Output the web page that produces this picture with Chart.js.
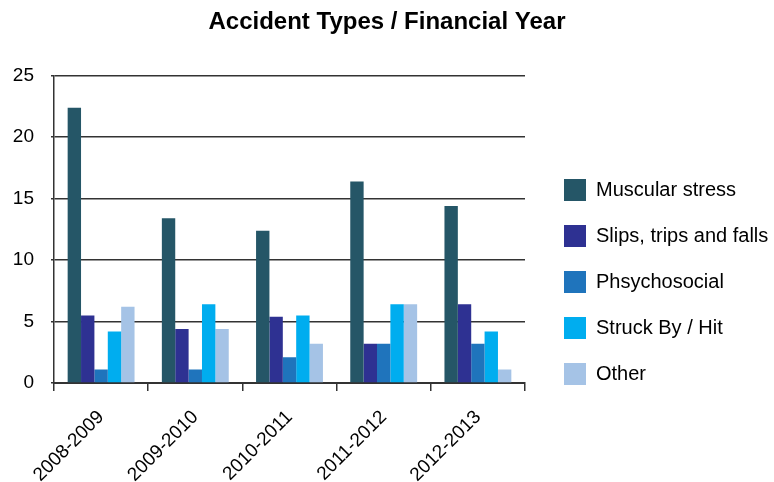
<!DOCTYPE html>
<html>
<head>
<meta charset="utf-8">
<script src="https://cdn.jsdelivr.net/npm/chart.js@4"></script>
<style>
    html, body { margin: 0; padding: 0; background: #fff; }
    #wrap { width: 774px; height: 482px; }
</style>
</head>
<body>
<div id="wrap"><canvas id="accident-chart"></canvas></div>
<script>
const years = ['2008-2009', '2009-2010', '2010-2011', '2011-2012', '2012-2013'];
const muscularStress = [22.4, 13.4, 12.4, 16.4, 14.4];
const slipsTrips = [5.5, 4.4, 5.4, 3.2, 6.4];
const phsychosocial = [1.1, 1.1, 2.1, 3.2, 3.2];
const struckBy = [4.2, 6.4, 5.5, 6.4, 4.2];
const other = [6.2, 4.4, 3.2, 6.4, 1.1];
const yTicks = [0, 5, 10, 15, 20, 25];

const font = 'Liberation Sans, Arial, sans-serif';
const dark = '#333333';

const ctx = document.getElementById('accident-chart');
//eslint-disable-next-line no-undef
new Chart(ctx, {
    type: 'bar',
    data: {
        labels: years,
        datasets: [
            { label: 'Muscular stress', data: muscularStress, backgroundColor: '#255667' },
            { label: 'Slips, trips and falls', data: slipsTrips, backgroundColor: '#2e3192' },
            { label: 'Phsychosocial', data: phsychosocial, backgroundColor: '#1f74bc' },
            { label: 'Struck By / Hit', data: struckBy, backgroundColor: '#00adef' },
            { label: 'Other', data: other, backgroundColor: '#a5c3e6' }
        ]
    },
    options: {
        responsive: true,
        maintainAspectRatio: false,
        animation: false,
        datasets: {
            bar: { categoryPercentage: 0.71, barPercentage: 1.0 }
        },
        layout: { padding: 0 },
        plugins: {
            title: {
                display: true,
                text: 'Accident Types / Financial Year',
                color: '#000',
                font: { family: font, size: 24, weight: 'bold' },
                padding: { top: 8, bottom: 39 }
            },
            legend: {
                position: 'right',
                align: 'center',
                maxWidth: 234,
                title: {
                    display: true,
                    text: ' ',
                    font: { family: font, size: 20, lineHeight: 1.1 },
                    padding: { top: 30, bottom: 30 }
                },
                labels: {
                    boxWidth: 22,
                    boxHeight: 22,
                    padding: 24,
                    color: '#000',
                    font: { family: font, size: 20, lineHeight: 1.1 }
                }
            },
            tooltip: { enabled: false }
        },
        scales: {
            x: {
                afterFit: (scale) => {
                    scale.paddingLeft = 0;
                    scale.height = 99;
                },
                grid: {
                    display: true,
                    drawOnChartArea: false,
                    drawTicks: true,
                    tickLength: 8,
                    color: dark,
                    lineWidth: 1.5
                },
                border: { display: true, color: dark, width: 2 },
                ticks: {
                    color: '#000',
                    font: { family: font, size: 19 },
                    minRotation: 45,
                    maxRotation: 45,
                    padding: 15
                }
            },
            y: {
                min: 0,
                max: 25,
                afterBuildTicks: (scale) => {
                    scale.ticks = yTicks.map(v => ({ value: v }));
                },
                afterFit: (scale) => { scale.width = 54; },
                grid: {
                    color: dark,
                    lineWidth: 1.5,
                    drawTicks: true,
                    tickLength: 3
                },
                border: { display: true, color: dark, width: 1.5 },
                ticks: {
                    color: '#000',
                    font: { family: font, size: 19 },
                    padding: 17
                }
            },
            gap: {
                type: 'linear',
                position: 'right',
                display: true,
                grid: { display: false, drawTicks: false },
                border: { display: false },
                ticks: { display: false },
                afterFit: (scale) => { scale.width = 15; }
            }
        }
    }
});
</script>
</body>
</html>
